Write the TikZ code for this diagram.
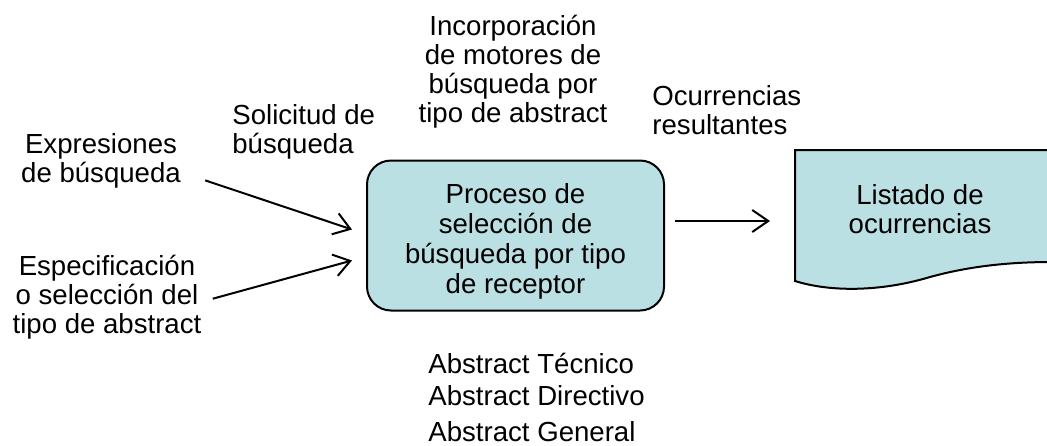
\documentclass[tikz,border=0pt]{standalone}
\usepackage{fontspec}
\setmainfont{Liberation Sans}
\usetikzlibrary{arrows.meta,calc}
\definecolor{boxfill}{RGB}{187,224,227}

\begin{document}
\begin{tikzpicture}[x=0.5pt,y=-0.5pt,
            lbl/.style={inner sep=0pt, font=\fontsize{13.8}{14.5}\selectfont},
            flow/.style={line width=1pt, -{Straight Barb[length=8pt,width=11pt]}},
            proc/.style={draw, line width=1pt, fill=boxfill, rounded corners=12pt,
              minimum width=148.5pt, minimum height=75pt}
            ]
            \useasboundingbox (0,0) rectangle (1047,445);
            % proceso central
            \node[proc] (sel) at (515.5,235.5) {};
            \node[lbl, anchor=base, align=center, font=\fontsize{13.8}{15}\selectfont] (seltxt) at (515.5,293)
              {Proceso de\\ selección de\\ búsqueda por tipo\\ de receptor};
            % documento de salida
            \draw[line width=1pt, fill=boxfill] (1052,150) -- (795,150) -- (795,281)
              .. controls (830,292) and (880,292) .. (930,277)
              .. controls (970,266) and (1010,262) .. (1052,262) -- cycle;
            \coordinate (docw) at (795,221);
            \node[lbl, anchor=base, align=center] (lista) at (920,233) {Listado de\\ ocurrencias};
            % entradas, controles y salidas
            \node[lbl, anchor=base, align=center] (expr) at (101,182) {Expresiones\\ de búsqueda};
            \node[lbl, anchor=base, align=center] (espec) at (107,333) {Especificación\\ o selección del\\ tipo de abstract};
            \node[lbl, anchor=base west, align=left] (solic) at (232,153) {Solicitud de\\ búsqueda};
            \node[lbl, anchor=base, align=center] (incorp) at (513,122) {Incorporación\\ de motores de\\ búsqueda por\\ tipo de abstract};
            \node[lbl, anchor=base west, align=left] (ocurr) at (652,134) {Ocurrencias\\ resultantes};
            \node[lbl, anchor=base west, align=left] (tipos) at (428,441) {Abstract Técnico\\[1.5pt] Abstract Directivo\\[3.5pt] Abstract General};

            \draw[flow] ($(expr.east)+(24,20)$) -- ($(sel.west)+(-14,-6)$);
            \draw[flow] ($(espec.east)+(11,2)$) -- ($(sel.west)+(-14,25)$);
            \draw[flow, shorten <=5pt, shorten >=12.5pt] (sel.east |- docw) -- (docw);

            \end{tikzpicture}
\end{document}
